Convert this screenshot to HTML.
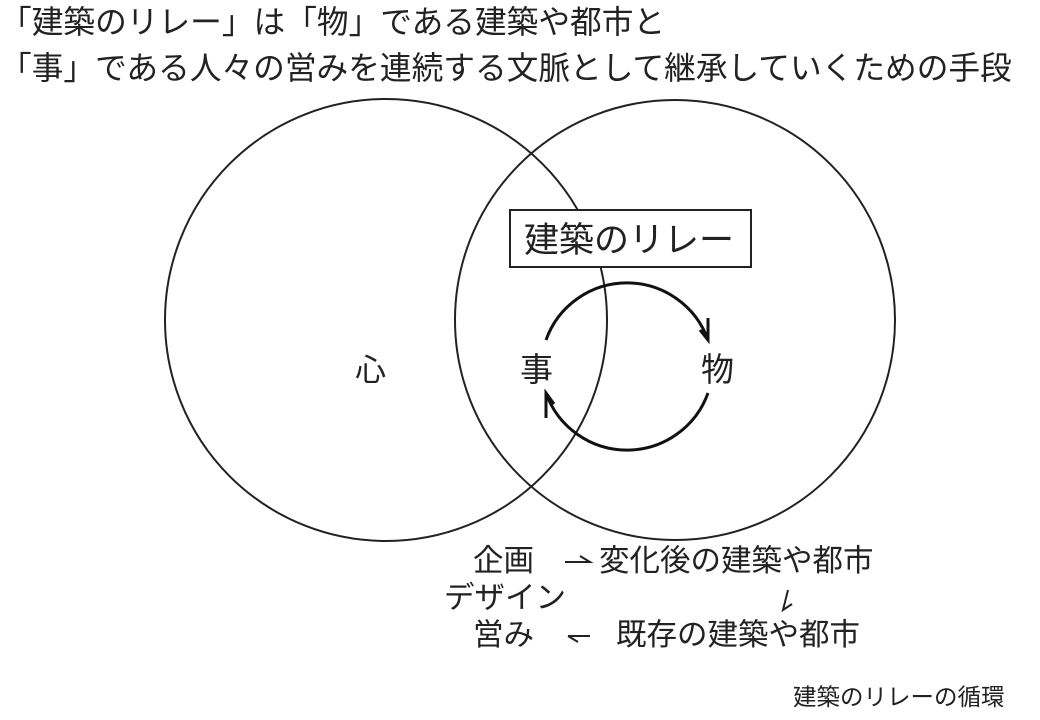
<!DOCTYPE html>
<html><head><meta charset="utf-8"><style>
html,body{margin:0;padding:0;background:#fff;}
svg{display:block;}
text{font-family:"Liberation Sans","Noto Sans CJK JP",sans-serif;fill:#222;}
</style></head><body>
<svg width="1040" height="720" viewBox="0 0 1040 720" xmlns="http://www.w3.org/2000/svg">
<text x="0" y="33" font-size="31.7">「建築のリレー」は「物」である建築や都市と</text>
<text x="0" y="79" font-size="31.7">「事」である人々の営みを連続する文脈として継承していくための手段</text>
<g fill="none" stroke="#222" stroke-width="2">
<circle cx="386" cy="320" r="221"/>
<circle cx="675" cy="320" r="220"/>
</g>
<rect x="510" y="210" width="241" height="57" fill="#fff" stroke="#222" stroke-width="2"/>
<text x="524" y="252" font-size="35">建築のリレー</text>
<g fill="none" stroke="#111" stroke-width="3">
<path d="M546 340 A86 86 0 0 1 708 340"/>
<path d="M708 393 A86 86 0 0 1 546 393"/>
<path d="M708 318 L708 340 L700 330"/>
<path d="M546 418 L546 393 L554 404"/>
</g>
<text x="355" y="381" font-size="31">心</text>
<text x="520" y="381" font-size="33">事</text>
<text x="701" y="381" font-size="33">物</text>
<g font-size="30.5">
<text x="473" y="571">企画</text>
<text x="599" y="571">変化後の建築や都市</text>
<text x="444" y="608">デザイン</text>
<text x="473" y="645">営み</text>
<text x="616" y="645">既存の建築や都市</text>
</g>
<g fill="none" stroke="#222" stroke-width="2">
<path d="M565 562 L590 562 L580 556"/>
<path d="M568 636 L590 636 M568 636 L578 642"/>
<path d="M788 590 L783 610 L792 604"/>
</g>
<text x="793" y="705" font-size="23.5">建築のリレーの循環</text>
</svg>
</body></html>
